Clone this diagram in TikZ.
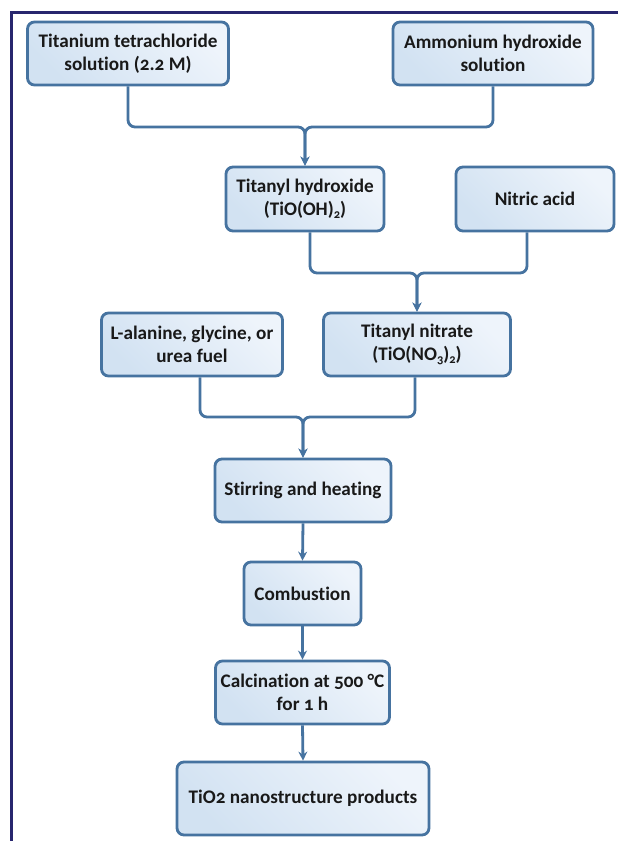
\documentclass[tikz,border=0pt]{standalone}
\usepackage{fontspec}
\setmainfont[Numbers=OldStyle, Ligatures=NoCommon]{Carlito}
\usetikzlibrary{arrows.meta}
\definecolor{frame}{RGB}{40,38,110}
\definecolor{edge}{RGB}{70,115,160}
\definecolor{textc}{RGB}{25,25,25}
\definecolor{lightA}{RGB}{210,226,242}
\definecolor{lightB}{RGB}{238,244,251}
\newcommand{\mysub}[1]{\raisebox{-0.35ex}{\fontsize{12.5}{12.5}\selectfont #1}}
\tikzset{
  box/.style={draw=edge, line width=2.8pt, rounded corners=7pt,
    shading=axis, left color=lightA, right color=lightB, shading angle=135,
    align=center, inner sep=2pt, text=textc, font=\fontsize{19.2}{23}\selectfont\bfseries},
  conn/.style={draw=edge, line width=2.8pt, rounded corners=7pt},
  arr/.style={conn, -{Stealth[length=9pt,width=9pt]}}
}
\begin{document}
\begin{tikzpicture}[x=1pt,y=-1pt]
\useasboundingbox (0,0) rectangle (618,841);
\fill[white] (0,0) rectangle (618,841);
\draw[frame, line width=3pt] (11,890) -- (11,12) -- (640,12);
\node[box, minimum width=201pt, minimum height=63pt] (A) at (128,53.5) {Titanium tetrachloride\\solution (2.2 M)};
\node[box, minimum width=200pt, minimum height=63pt] (B) at (493,53.5) {Ammonium hydroxide\\solution};
\node[box, minimum width=158pt, minimum height=64pt] (C) at (305,199) {Titanyl hydroxide\\(TiO(OH)\mysub{2})};
\node[box, minimum width=158pt, minimum height=64pt] (D) at (535,199) {Nitric acid};
\node[box, minimum width=181pt, minimum height=63pt] (E) at (192,344.5) {L-alanine, glycine, or\\urea fuel};
\node[box, minimum width=187pt, minimum height=63pt] (F) at (417,344.5) {Titanyl nitrate\\(TiO(NO\mysub{3})\mysub{2})};
\node[box, minimum width=176pt, minimum height=63pt] (G) at (303,490.5) {Stirring and heating};
\node[box, minimum width=117pt, minimum height=63pt] (H) at (302.5,593.5) {Combustion};
\node[box, minimum width=174pt, minimum height=63pt] (I) at (302.5,692.5) {Calcination at 500 °C\\for 1 h};
\node[box, minimum width=252pt, minimum height=73pt] (J) at (303,798.5) {TiO2 nanostructure products};
\coordinate (j1) at (305,127);
\coordinate (j2) at (417,273);
\coordinate (j3) at (303,417);
\draw[arr] (A.south) |- (j1) -- (C.north);
\draw[arr] (B.south) |- (j1) -- (C.north);
\draw[arr] (C.south -| 310,0) |- (j2) -- (F.north);
\draw[arr] (D.south -| 527,0) |- (j2) -- (F.north);
\draw[arr] (E.south -| 200,0) |- (j3) -- (G.north);
\draw[arr] (F.south -| 415,0) |- (j3) -- (G.north);
\draw[arr] (G.south) -- (H.north);
\draw[arr] (H.south) -- (I.north);
\draw[arr] (I.south) -- (J.north);
\end{tikzpicture}
\end{document}
